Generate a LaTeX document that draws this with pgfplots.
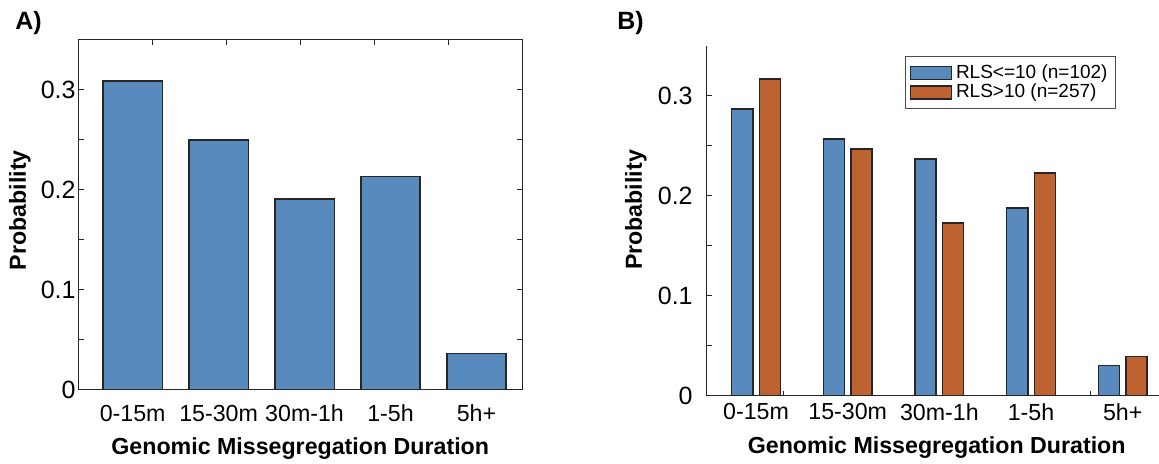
\documentclass[border=0pt]{standalone}
\usepackage{pgfplots}
\pgfplotsset{compat=1.18}
\usepackage{fontspec}
\setmainfont{Liberation Sans}
\definecolor{mblue}{RGB}{88,138,189}
\definecolor{morange}{RGB}{190,98,50}
\definecolor{axgray}{RGB}{38,38,38}
\pgfplotsset{
  common/.style={
    scale only axis,
    anchor=south west,
    ymin=0, ymax=0.35,
    axis line style={axgray, line width=0.5pt},
    tick align=inside,
    major tick length=2.5pt, minor tick length=2.5pt,
    tick style={axgray, line width=0.5pt},
    xticklabels={},
    extra x ticks={1,2,3,4,5},
    extra x tick labels={0-15m,15-30m,30m-1h,1-5h,5h+},
    extra x tick style={major tick length=0pt},
    ytick={0,0.1,0.2,0.3}, minor ytick={0.05,0.15,0.25},
    /pgf/number format/assume math mode=true,
    yticklabel style={font=\fontsize{12.5}{14}\selectfont, /pgf/number format/fixed, /pgf/number format/precision=1},
    xticklabel style={font=\fontsize{11.6}{13}\selectfont},
    xlabel={Genomic Missegregation Duration},
    ylabel={Probability},
    label style={font=\bfseries\fontsize{11.6}{13}\selectfont},
  },
  barA/.style={ybar, bar width=0.69, fill=mblue, draw=black!85, line width=0.7pt},
  barleg/.style={legend image code/.code={\draw[##1, line width=0.7pt] (0pt,-3.3pt) rectangle (20.5pt,3.3pt);}},
}
\begin{document}
\begin{tikzpicture}
\path[use as bounding box] (0,0) rectangle (579.5pt,232pt);
\node[anchor=base west, font=\bfseries\fontsize{12.5}{14}\selectfont, inner sep=0pt] at (7.5pt,217pt) {A)};
\node[anchor=base west, font=\bfseries\fontsize{12.5}{14}\selectfont, inner sep=0pt] at (308.5pt,217pt) {B)};
\begin{axis}[common,
  width=221.75pt, height=175pt,
  at={(39.25pt,37pt)},
  xmin=0.37, xmax=5.53,
  xtick={1.23,2.09,2.95,3.81,4.67},
  yticklabel style={inner xsep=1.25pt},
  xticklabel style={yshift=-4pt},
  xlabel style={at={(axis description cs:0.5,-0.166)}, anchor=center},
  ylabel style={at={(axis description cs:-0.132,0.514)}, anchor=center},
]
\addplot[barA] table {
x y
1 0.309
2 0.250
3 0.191
4 0.2133
5 0.0363
};
\end{axis}
\begin{axis}[common,
  width=230pt, height=174.85pt,
  at={(353.35pt,34.15pt)},
  xmin=0.462, xmax=5.48,
  axis x line*=bottom, axis y line*=left,
  xtick={1.298,2.135,2.971,3.807,4.644},
  yticklabel style={inner xsep=6.85pt},
  xticklabel style={yshift=-0.5pt},
  xlabel style={at={(axis description cs:0.5,-0.149)}, anchor=center},
  ylabel style={at={(axis description cs:-0.154,0.531)}, anchor=center},
  legend style={at={(0.89,0.971)}, anchor=north east, draw=black!70, line width=0.5pt,
    font=\fontsize{9.5}{10}\selectfont, inner xsep=2pt, inner ysep=2pt, row sep=-2.6pt,
    cells={anchor=west}},
]
\addplot[ybar, bar width=0.23, bar shift=-0.15, fill=mblue, draw=black!85, line width=0.7pt, barleg] table {
x y
1 0.287
2 0.257
3 0.237
4 0.188
5 0.030
};
\addlegendentry{RLS<=10 (n=102)}
\addplot[ybar, bar width=0.23, bar shift=0.15, fill=morange, draw=black!85, line width=0.7pt, barleg] table {
x y
1 0.317
2 0.247
3 0.173
4 0.223
5 0.039
};
\addlegendentry{RLS>10 (n=257)}
\end{axis}
\end{tikzpicture}
\end{document}
